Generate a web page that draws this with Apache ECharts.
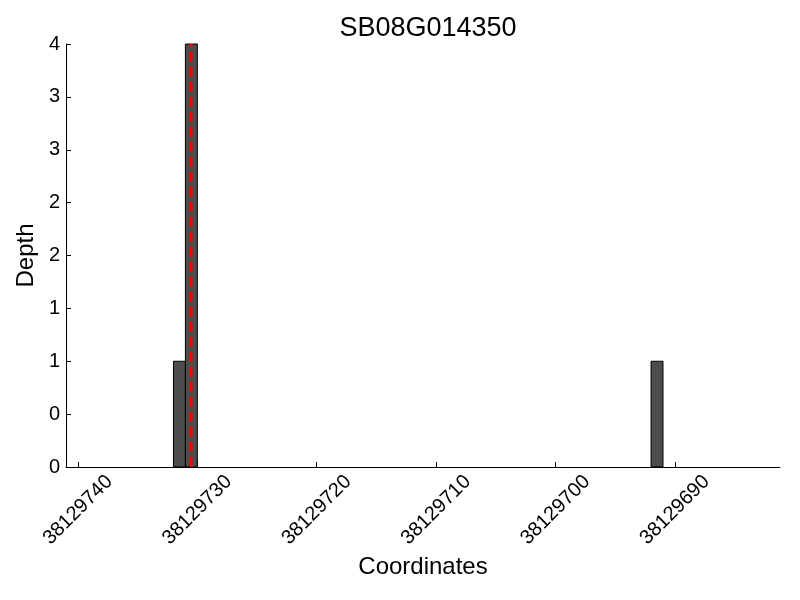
<!DOCTYPE html>
<html><head><meta charset="utf-8">
<script src="https://cdn.jsdelivr.net/npm/echarts@6/dist/echarts.min.js"></script>
<style>html,body{margin:0;padding:0;background:#fff}#c{width:800px;height:600px}</style>
</head><body><div id="c"></div>
<script>
const positions = [38129731, 38129730, 38129691];
const depths = [1, 4, 1];
const markerPos = 38129730.5;
const xTicks = [38129740, 38129730, 38129720, 38129710, 38129700, 38129690];
const yTicks = [0, 0.5, 1, 1.5, 2, 2.5, 3, 3.5, 4];
const titleText = 'SB08G014350';

const chart = echarts.init(document.getElementById('c'));
const font = 'Liberation Sans, Arial, sans-serif';
chart.setOption({
  animation: false,
  title: {text: titleText, left: 423, textAlign: 'center', top: 10,
    textStyle: {fontFamily: font, fontSize: 27, fontWeight: 'normal', color: '#000'}},
  grid: {left: 66, right: 20, top: 44, bottom: 133},
  xAxis: {
    type: 'value', inverse: true, min: 38129681.2, max: 38129741,
    name: 'Coordinates', nameLocation: 'middle', nameGap: 88,
    nameTextStyle: {fontFamily: font, fontSize: 24, color: '#000'},
    axisLine: {show: true, lineStyle: {color: '#000', width: 1}},
    axisTick: {show: true, inside: true, length: 5, customValues: xTicks, lineStyle: {color: '#000'}},
    axisLabel: {customValues: xTicks, rotate: 45, align: 'center', verticalAlign: 'middle',
      fontFamily: font, fontSize: 20, color: '#000', margin: 43,
      formatter: v => String(Math.round(v))},
    splitLine: {show: false}
  },
  yAxis: {
    type: 'value', min: 0, max: 4,
    name: 'Depth', nameLocation: 'middle', nameGap: 28,
    nameTextStyle: {fontFamily: font, fontSize: 24, color: '#000'},
    axisLine: {show: true, lineStyle: {color: '#000', width: 1}},
    axisTick: {show: true, inside: true, length: 5, customValues: yTicks, lineStyle: {color: '#000'}},
    axisLabel: {customValues: yTicks, fontFamily: font, fontSize: 20, color: '#000', margin: 6,
      formatter: v => String(Math.floor(v))},
    splitLine: {show: false}
  },
  series: [{
    type: 'custom',
    data: positions.map((p, i) => [p, depths[i]]),
    renderItem: function (params, api) {
      const x0 = api.value(0), h = api.value(1);
      const a = api.coord([x0, h]);
      const b = api.coord([x0 + 1, 0]);
      return {type: 'rect', shape: {x: Math.min(a[0], b[0]), y: a[1], width: Math.abs(b[0] - a[0]), height: b[1] - a[1]},
        style: {fill: '#4d4d4d', stroke: '#000', lineWidth: 1}};
    },
    z: 2
  }, {
    type: 'line', data: [[markerPos, 0], [markerPos, 4]], symbol: 'none',
    lineStyle: {color: '#ff0000', width: 3, type: [10, 5]}, z: 3
  }]
});
</script></body></html>
